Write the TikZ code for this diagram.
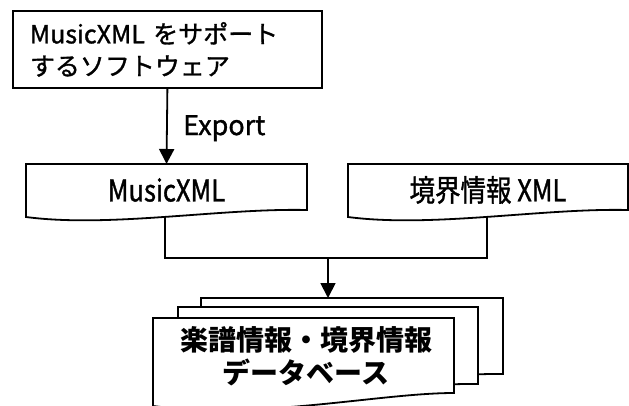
\documentclass[tikz,border=0pt]{standalone}
\usepackage{fontspec}
\setmainfont{Noto Sans CJK JP}
\newfontfamily\medfont[FakeBold=1.2]{Noto Sans CJK JP}
\newfontfamily\docfont[FakeStretch=0.85,FakeBold=1.2]{Noto Sans CJK JP}
\usetikzlibrary{arrows.meta}
\tikzset{
  ln/.style={line width=1.8pt, line join=miter},
  box/.style={ln, draw, rectangle},
  page/.style={ln, draw, fill=white},
  arr/.style={ln, -{Triangle[width=15pt,length=15pt]}},
  lbl/.style={inner sep=0pt},
}
\begin{document}
\begin{tikzpicture}[x=1pt,y=-1pt]
\useasboundingbox (0,0) rectangle (629,405);
% top box
\node[box, anchor=north west, minimum width=309pt, minimum height=77pt,
      text width=275pt, inner xsep=17pt, inner ysep=0pt, align=left,
      font=\medfont\fontsize{25}{32}\selectfont] (sw) at (12,10)
  {MusicXML をサポート\\するソフトウェア};
% MusicXML document
\draw[page] (26,164) coordinate (mxtl) -- (307,164) -- (307,210)
  .. controls (220,208) and (110,228) .. coordinate[pos=0.5] (mxb) (26,217) -- cycle;
\coordinate (mxt) at (166.5,164);
\node[lbl, font=\docfont\fontsize{30}{34}\selectfont] (mxl) at (166.5,190) {MusicXML};
% boundary XML document
\draw[page] (348,164) -- (628,164) -- (628,210)
  .. controls (542,208) and (432,228) .. coordinate[pos=0.5] (kb) (348,217) -- cycle;
\node[lbl, font=\docfont\fontsize{30}{34}\selectfont] (kl) at (488,190) {境界情報 XML};
% Export arrow
\draw[arr] (sw.south) -- (mxt);
\node[anchor=base west, lbl, font=\medfont\fontsize{27}{30}\selectfont] (ex) at (183,135) {Export};
% database pages
\draw[page] (201,298) -- (503,298) -- (503,374)
  .. controls (430,373) and (320,392) .. (201,386) -- cycle;
\coordinate (bk) at (328,298);
\draw[page] (178,307) -- (478,307) -- (478,384)
  .. controls (400,383) and (290,402) .. (178,396) -- cycle;
\draw[page] (153,318) -- (454,318) -- (454,393)
  .. controls (380,393) and (260,420) .. (153,406) -- cycle;
\node[lbl, align=center, font=\bfseries\fontsize{28}{33}\selectfont] (db) at (306,356)
  {楽譜情報・境界情報\\データベース};
% merge connector
\coordinate (jn) at (328,258);
\draw[ln] (mxb) |- (jn) -| (kb);
\draw[arr] (jn) -- (bk);
\end{tikzpicture}
\end{document}
